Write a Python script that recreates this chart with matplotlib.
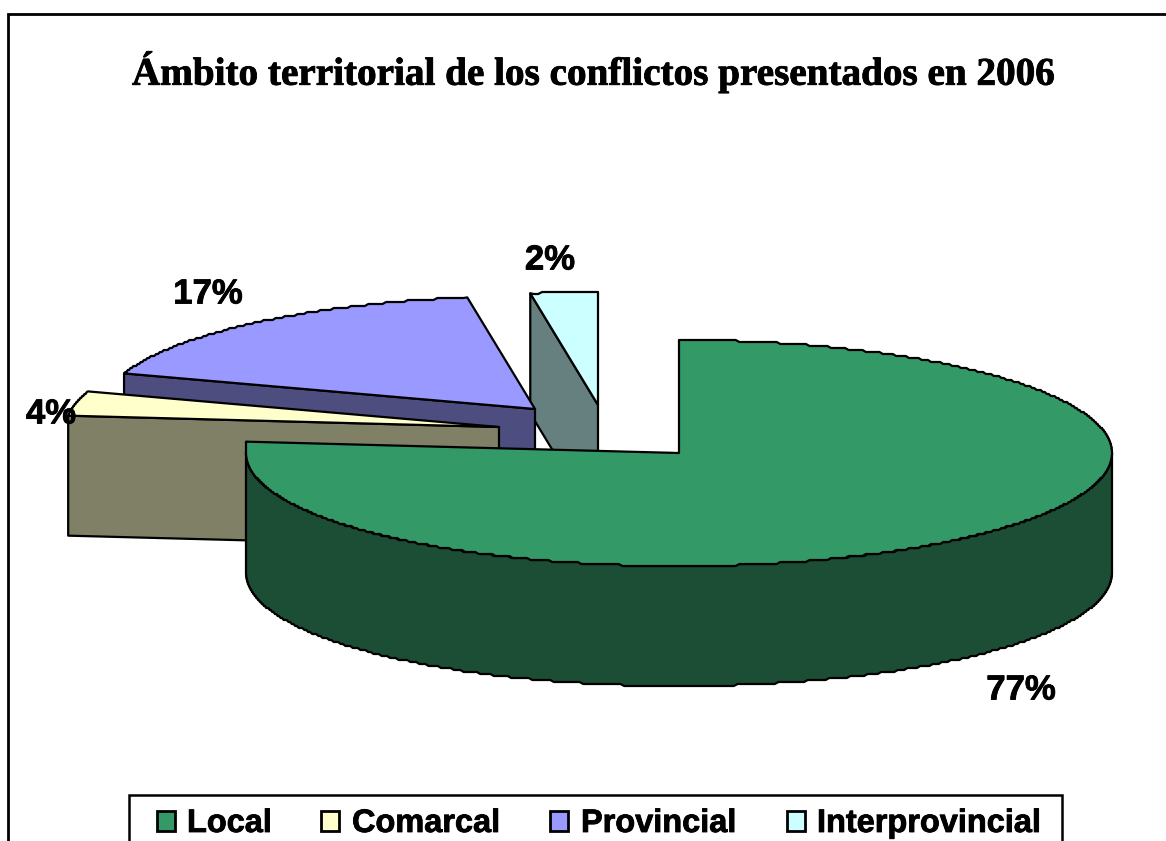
import numpy as np
import matplotlib
matplotlib.use('Agg')
import matplotlib.pyplot as plt
import matplotlib.patheffects as pe
from matplotlib.patches import Polygon, Rectangle

# Datos
title = 'Ámbito territorial de los conflictos presentados en 2006'
categories = ['Local', 'Comarcal', 'Provincial', 'Interprovincial']
values = [76.6, 3.5, 17.4, 2.5]

top_colors = ['#339966', '#FFFFCC', '#9999FF', '#CCFFFF']
wall_colors = ['#1C4D35', '#808066', '#4D4D80', '#668080']

# Centro de cada porcion (pieza separada) en pixeles
centers = [(679, 453), (499, 427), (535, 409), (598, 405)]
label_pos = [(1021, 690), (51, 414), (208, 294), (550, 260)]
legend_swatch_x = [157, 321, 550, 787]
legend_text_x = [187, 352, 581, 817]

RX, RY, DEPTH = 433, 113, 120
LW = 1.6
bold = [pe.withStroke(linewidth=0.6, foreground='black')]

fig = plt.figure(figsize=(11.66, 8.41), dpi=100)
ax = fig.add_axes([0, 0, 1, 1])
ax.set_xlim(0, 1166)
ax.set_ylim(841, 0)
ax.axis('off')


def rim(c, a0, a1, n):
    t = np.radians(np.linspace(a0, a1, n))
    x = c[0] + RX * np.sin(t)
    y = c[1] - RY * np.cos(t)
    # borde escalonado como en la imagen original
    y[1:-1] = np.round(y[1:-1] / 2) * 2
    return np.column_stack([x, y])


def poly(pts, color, z):
    ax.add_patch(Polygon(pts, closed=True, facecolor=color, edgecolor='black',
                         linewidth=LW, joinstyle='round', zorder=z))


edges = np.cumsum([0] + values) / sum(values) * 360

# de atras hacia delante
for i in [3, 2, 1, 0]:
    c = centers[i]
    a0, a1 = edges[i], edges[i + 1]
    z = 10 - i if i else 20
    n = max(int((a1 - a0) * 2), 8)
    top = rim(c, a0, a1, n)
    if i == 0:
        # pared exterior visible de la porcion grande, lado izquierdo vertical
        arc = rim(c, 90, 270, 360)
        wall = np.vstack([arc, arc[::-1] + [0, DEPTH]])
        poly(wall, wall_colors[i], z)
        top[:, 0] = np.where(np.linspace(a0, a1, len(top)) > 270, c[0] - RX, top[:, 0])
    else:
        # pared recta que mira al frente
        p = top[0]
        wall = [p, c, (c[0], c[1] + DEPTH), (p[0], p[1] + DEPTH)]
        poly(wall, wall_colors[i], z)
    poly(np.vstack([[c], top]), top_colors[i], z + 0.5)

# etiquetas de porcentaje
for v, (x, y) in zip(values, label_pos):
    ax.text(x, y, f'{v:.0f}%', family='Liberation Sans', fontweight='bold',
            fontsize=25, ha='center', va='center', zorder=30, path_effects=bold)

ax.text(593, 72, title, family='Liberation Serif', fontweight='bold',
        fontsize=28.2, ha='center', va='center', zorder=30, path_effects=bold)

# marco del grafico
ax.plot([8, 8, 1166], [841, 14, 14], color='black', lw=2, zorder=31,
        solid_joinstyle='miter')

# leyenda
ax.add_patch(Rectangle((129, 795), 933, 60, facecolor='white', edgecolor='black',
                       linewidth=1.8, zorder=32))
for name, color, sx, tx in zip(categories, top_colors, legend_swatch_x, legend_text_x):
    ax.add_patch(Rectangle((sx, 811), 18, 20, facecolor=color, edgecolor='black',
                           linewidth=2, zorder=33))
    ax.text(tx, 824, name, family='Liberation Sans', fontweight='bold', fontsize=23.4,
            ha='left', va='center', zorder=33, path_effects=bold)

fig.savefig('out.png', dpi=100)
